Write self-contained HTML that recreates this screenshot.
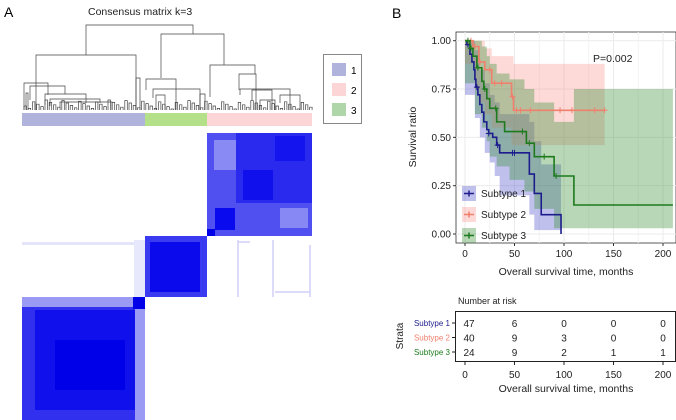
<!DOCTYPE html>
<html><head><meta charset="utf-8"><style>
body{margin:0;background:#fff;}
svg{display:block;font-family:"Liberation Sans",sans-serif;}
</style></head><body>
<svg width="676" height="420" viewBox="0 0 676 420">
<!-- Panel A -->
<text x="4" y="17" font-size="14">A</text>
<text x="88" y="15" font-size="10.5" fill="#222">Consensus matrix k=3</text>
<g id="dendro" stroke="#444" stroke-width="0.7" fill="none">
<path d="M86,55V25H193V34"/>
<path d="M36,110V55H136V110"/>
<path d="M161,78V34H224V65"/>
<path d="M210,97V65H255V74"/>
<path d="M146,90V79H176V110"/>
<path d="M239,90V74H256V110"/>
<path d="M24,110V83H48V95"/>
<path d="M30,100V86H65V94"/>
<path d="M45,105V94H86V103"/>
<path d="M153,98V89H200V110"/>
<path d="M240,95V89H290V110"/>
<path d="M252,100V90H272V110"/>
<path d="M280,103V95H300V110"/>
<path d="M50,106V99H100V103"/>
<path d="M60,108V102H112V110"/>
<path d="M136,110V78H140V110"/>
<path d="M200,110V94H205V110"/>
<path d="M26,110V93H28V110"/>
<path d="M156,110V95H165V110"/>
<path d="M260,110V100H275V110"/>
</g>
<rect x="22" y="113" width="123" height="13" fill="#b0b4dc"/>
<rect x="145" y="113" width="62" height="13" fill="#b4e08a"/>
<rect x="207" y="113" width="105" height="13" fill="#fcd6d6"/>
<g>
<rect x="323.5" y="54.5" width="38" height="69" fill="#fff" stroke="#888"/>
<rect x="332" y="63" width="14" height="13" fill="#b0b4dc"/><text x="351" y="74" font-size="10">1</text>
<rect x="332" y="83" width="14" height="13" fill="#fcd6d6"/><text x="351" y="94" font-size="10">2</text>
<rect x="332" y="103" width="14" height="13" fill="#aed6a8"/><text x="351" y="114" font-size="10">3</text>
</g>
<g>
<rect x="207" y="133" width="105" height="103" fill="#5050f0"/>
<rect x="236" y="133" width="76" height="70" fill="#2a2aee"/>
<rect x="214" y="140" width="22" height="30" fill="#8a8af4"/>
<rect x="215" y="208" width="20" height="22" fill="#0a0aee"/>
<rect x="275" y="136" width="30" height="25" fill="#1414ee"/>
<rect x="243" y="170" width="30" height="30" fill="#1010ec"/>
<rect x="280" y="208" width="28" height="20" fill="#8888f4"/>
<rect x="207" y="229" width="8" height="7" fill="#0000e8"/>
<rect x="145" y="236" width="62" height="61" fill="#3a3af0"/>
<rect x="150" y="242" width="50" height="50" fill="#0a0aec"/>
<rect x="22" y="242" width="123" height="3" fill="#e4e4fa"/>
<rect x="134" y="240" width="11" height="57" fill="#e8e8fc"/>
<g stroke="#d0d0f8" stroke-width="1.5" fill="none">
<path d="M238,240V297M273,240V297M310,245V297M275,292H310M238,242H250"/>
</g>
<rect x="22" y="297" width="123" height="123" fill="#3030ee"/>
<rect x="35" y="310" width="100" height="100" fill="#1010ec"/>
<rect x="22" y="297" width="123" height="10" fill="#9a9af4"/>
<rect x="135" y="297" width="10" height="123" fill="#9a9af4"/>
<rect x="133" y="297" width="12" height="12" fill="#0000e8"/>
<rect x="55" y="340" width="70" height="50" fill="#0000e8"/>
</g>

<!-- Panel B -->
<text x="392" y="18" font-size="14">B</text>
<g id="km"></g>
<g id="risk"></g>
</svg>
<script>
const ns="http://www.w3.org/2000/svg";
// Survival data
const s1t=[0,2,5,7,9,10,11,13,15,17,19,22,24,28,32,35,65,70,77,97];
const s1v=[1,0.98,0.93,0.89,0.85,0.80,0.76,0.72,0.67,0.63,0.58,0.54,0.52,0.50,0.46,0.42,0.31,0.21,0.10,0.0];
const s1end=97;
const s2t=[0,8,14,20,27,47,49];
const s2v=[1,0.97,0.89,0.85,0.78,0.71,0.64];
const s2end=141;
const s3t=[0,5,8,12,17,19,22,25,32,40,62,70,90,110];
const s3v=[1,0.96,0.92,0.86,0.79,0.75,0.70,0.65,0.58,0.53,0.47,0.40,0.30,0.15];
const s3end=210;
const b1t=[0,10,15,20,25,30,35,65,70,77,97];
const b1hi=[1,0.95,0.85,0.78,0.72,0.68,0.62,0.58,0.48,0.36,0.10];
const b1lo=[1,0.72,0.60,0.50,0.42,0.37,0.30,0.20,0.10,0.02,0.02];
const b2t=[0,10,15,20,27,47,49,141];
const b2hi=[1,1,1,0.96,0.92,0.92,0.88,0.88];
const b2lo=[1,0.88,0.75,0.68,0.62,0.55,0.46,0.46];
const b3t=[0,10,17,22,25,32,45,60,70,90,110,210];
const b3hi=[1,1,0.97,0.92,0.88,0.83,0.80,0.75,0.68,0.58,0.75,0.75];
const b3lo=[1,0.78,0.62,0.55,0.48,0.40,0.35,0.28,0.22,0.13,0.03,0.03];
const cens1=[3,12,24,33,48,50];
const cens2=[3,6,10,15,25,30,37,48,52,56,66,96,108,131,141];
const cens3=[3,6,13,20,31,58,65,80,92];
const xTicks=[0,50,100,150,200];
const yTicks=[0,0.25,0.5,0.75,1];
const yTickLabels=["0.00","0.25","0.50","0.75","1.00"];
const riskStrata=["Subtype 1","Subtype 2","Subtype 3"];
const riskVals=[[47,6,0,0,0],[40,9,3,0,0],[24,9,2,1,1]];
const cols=["#1c1c8c","#f0806e","#1d7a1d"];
const fills=["rgba(90,90,205,0.38)","rgba(250,140,130,0.32)","rgba(50,140,50,0.35)"];

// decorative leaf branches of dendrogram
const dg=document.getElementById('dendro');
for(let x=24;x<310;x+=4.2){const h=100+((x*7)%9);
 const p=document.createElementNS(ns,'path');p.setAttribute('d',`M${x.toFixed(1)},110V${h}H${(x+2.5).toFixed(1)}V110`);dg.appendChild(p);}

const X=t=>465+t*0.99, Y=v=>234-v*193.3;
const km=document.getElementById('km'), risk=document.getElementById('risk');
function mk(tag,at,par){const e=document.createElementNS(ns,tag);for(const k in at)e.setAttribute(k,at[k]);(par||km).appendChild(e);return e;}
mk('rect',{x:456,y:32,width:220,height:211,fill:'#fff',stroke:'#333','stroke-width':0.8});
xTicks.forEach(t=>{mk('line',{x1:X(t),x2:X(t),y1:32,y2:243,stroke:'#ebebeb'});
 if(t<200)mk('line',{x1:X(t+25),x2:X(t+25),y1:32,y2:243,stroke:'#f4f4f4'});});
yTicks.forEach(v=>mk('line',{x1:456,x2:676,y1:Y(v),y2:Y(v),stroke:'#ebebeb'}));
function stepPath(t,v,end){let d=`M${X(t[0])},${Y(v[0])}`;for(let i=1;i<t.length;i++){d+=`H${X(t[i])}V${Y(v[i])}`;}d+=`H${X(end)}`;return d;}
function band(t,hi,lo){let d=`M${X(t[0])},${Y(hi[0])}`;for(let i=1;i<t.length;i++)d+=`H${X(t[i])}V${Y(hi[i])}`;
 for(let i=t.length-1;i>=1;i--)d+=`V${Y(lo[i])}H${X(t[i-1])}`;d+=`V${Y(lo[0])}Z`;return d;}
function valAt(t,v,x){let r=v[0];for(let i=0;i<t.length;i++)if(t[i]<=x)r=v[i];return r;}
const bands=[[b1t,b1hi,b1lo],[b2t,b2hi,b2lo],[b3t,b3hi,b3lo]];
bands.forEach((b,i)=>{const p=mk('path',{d:band(b[0],b[1],b[2]),fill:fills[i]});

});
const series=[[s1t,s1v,s1end,cens1],[s2t,s2v,s2end,cens2],[s3t,s3v,s3end,cens3]];
series.forEach((s,i)=>{const p=mk('path',{d:stepPath(s[0],s[1],s[2]),fill:'none',stroke:cols[i],'stroke-width':1.6});


s[3].forEach(c=>{const y=Y(valAt(s[0],s[1],c));
 const m=mk('path',{d:`M${X(c)-3},${y}h6M${X(c)},${y-3}v6`,stroke:cols[i],'stroke-width':1});
 
 });});
yTicks.forEach((v,i)=>{mk('line',{x1:453,x2:456,y1:Y(v),y2:Y(v),stroke:'#333'});
 const t=mk('text',{x:451,y:Y(v)+3.5,'font-size':10,'text-anchor':'end',fill:'#222'});t.textContent=yTickLabels[i];
 
 });
xTicks.forEach(v=>{mk('line',{x1:X(v),x2:X(v),y1:243,y2:246,stroke:'#333'});
 const t=mk('text',{x:X(v),y:257,'font-size':10,'text-anchor':'middle',fill:'#222'});t.textContent=v;
 
 });
let tt=mk('text',{x:566,y:275,'font-size':10.5,'text-anchor':'middle',fill:'#222'});tt.textContent='Overall survival time, months';

tt=mk('text',{x:0,y:0,'font-size':10.5,'text-anchor':'middle',fill:'#222',transform:'translate(416,137) rotate(-90)'});tt.textContent='Survival ratio';

tt=mk('text',{x:593,y:62,'font-size':10.5,fill:'#222'});tt.textContent='P=0.002';

riskStrata.forEach((n,i)=>{const y=186+i*21;
 const r=mk('rect',{x:462,y:y,width:14,height:15,fill:fills[i]});
 
 
 mk('path',{d:`M464,${y+7.5}h10M469,${y+4.5}v6`,stroke:cols[i],'stroke-width':1.5});
 const t=mk('text',{x:481,y:y+11,'font-size':10,fill:'#222'});t.textContent=n;});
mk('text',{x:458,y:304,'font-size':9,fill:'#222'},risk).textContent='Number at risk';
mk('rect',{x:455.5,y:311.5,width:220,height:50,fill:'none',stroke:'#222','stroke-width':1},risk);
const rt=mk('text',{x:0,y:0,'font-size':10,'text-anchor':'middle',fill:'#222',transform:'translate(403,336) rotate(-90)'},risk);rt.textContent='Strata';
riskStrata.forEach((n,i)=>{const y=323+i*14.5;
 const l=mk('text',{x:450,y:y+3,'font-size':8,'text-anchor':'end',fill:cols[i]},risk);l.textContent=n;
 mk('line',{x1:452,x2:455,y1:y,y2:y,stroke:'#222'},risk);
 riskVals[i].forEach((v,j)=>{const t=mk('text',{x:X(xTicks[j])+(j==0?4:0),y:y+4,'font-size':10,'text-anchor':'middle',fill:'#222'},risk);t.textContent=v;
 
 });});
xTicks.forEach(v=>{mk('line',{x1:X(v),x2:X(v),y1:362,y2:365,stroke:'#222'},risk);
 mk('text',{x:X(v),y:378,'font-size':10,'text-anchor':'middle',fill:'#222'},risk).textContent=v;});
mk('text',{x:566,y:392,'font-size':10.5,'text-anchor':'middle',fill:'#222'},risk).textContent='Overall survival time, months';
</script>
</body></html>
